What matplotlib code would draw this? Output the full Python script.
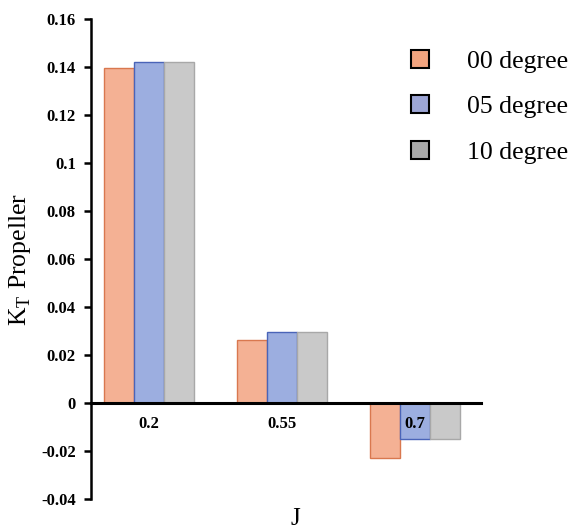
import numpy as np
import matplotlib
matplotlib.use("Agg")
import matplotlib.pyplot as plt
from matplotlib.lines import Line2D

plt.rcParams["font.family"] = ["Liberation Serif", "DejaVu Serif"]
plt.rcParams["mathtext.fontset"] = "custom"
plt.rcParams["mathtext.rm"] = "Liberation Serif"

j_labels = ["0.2", "0.55", "0.7"]
series_names = ["00 degree", "05 degree", "10 degree"]
kt_00 = [0.1396, 0.0262, -0.0229]
kt_05 = [0.1421, 0.0297, -0.0150]
kt_10 = [0.1421, 0.0297, -0.0150]
y_ticks = [-0.04, -0.02, 0, 0.02, 0.04, 0.06, 0.08, 0.1, 0.12, 0.14, 0.16]
y_ticklabels = ["-0.04", "-0.02", "0", "0.02", "0.04", "0.06", "0.08",
                "0.1", "0.12", "0.14", "0.16"]

fills = ["#F4B194", "#9CAEE0", "#C9C9C9"]
edges = ["#D9784F", "#4A64B8", "#A8A8A8"]
legend_fills = ["#F2A47F", "#9DA6D6", "#A9A9A9"]

fig = plt.figure(figsize=(5.8, 5.3), dpi=100)
ax = fig.add_axes([0.157, 0.0585, 0.672, 0.9055])
ax.set_axisbelow(False)

# spine moved first, because moving it resets the tick labels
ax.spines["top"].set_visible(False)
ax.spines["right"].set_visible(False)
ax.spines["bottom"].set_position(("data", 0))
ax.spines["bottom"].set_linewidth(2.2)
ax.spines["bottom"].set_zorder(3)
ax.spines["left"].set_linewidth(1.8)

x = np.arange(len(j_labels))
width = 0.225
for i, vals in enumerate([kt_00, kt_05, kt_10]):
    ax.bar(x + (i - 1) * width, vals, width, color=fills[i],
           edgecolor=edges[i], linewidth=1.0, zorder=2)

ax.set_xlim(-0.436, 2.496)
ax.set_ylim(-0.04, 0.16)
ax.set_yticks(y_ticks)
ax.set_yticklabels(y_ticklabels, fontweight="bold", fontsize=12)
ax.set_xticks(x)
ax.set_xticklabels(j_labels, fontweight="bold", fontsize=12)
ax.tick_params(axis="x", length=0, pad=9)
ax.tick_params(axis="y", length=5, width=1.8, pad=6)

ax.set_ylabel(r"K$_\mathregular{T}$ Propeller", fontsize=18.5, labelpad=6)
fig.text(0.51, 0.0, "J", fontsize=18, ha="center", va="bottom")

handles = [Line2D([], [], marker="s", linestyle="none", markersize=13,
                  markerfacecolor=c, markeredgecolor="black",
                  markeredgewidth=1.5) for c in legend_fills]
fig.legend(handles, series_names, loc="upper right",
           bbox_to_anchor=(1.02, 0.95), frameon=False, fontsize=18.5,
           handletextpad=0.85, labelspacing=0.88)

fig.savefig("out.png", dpi=100)
